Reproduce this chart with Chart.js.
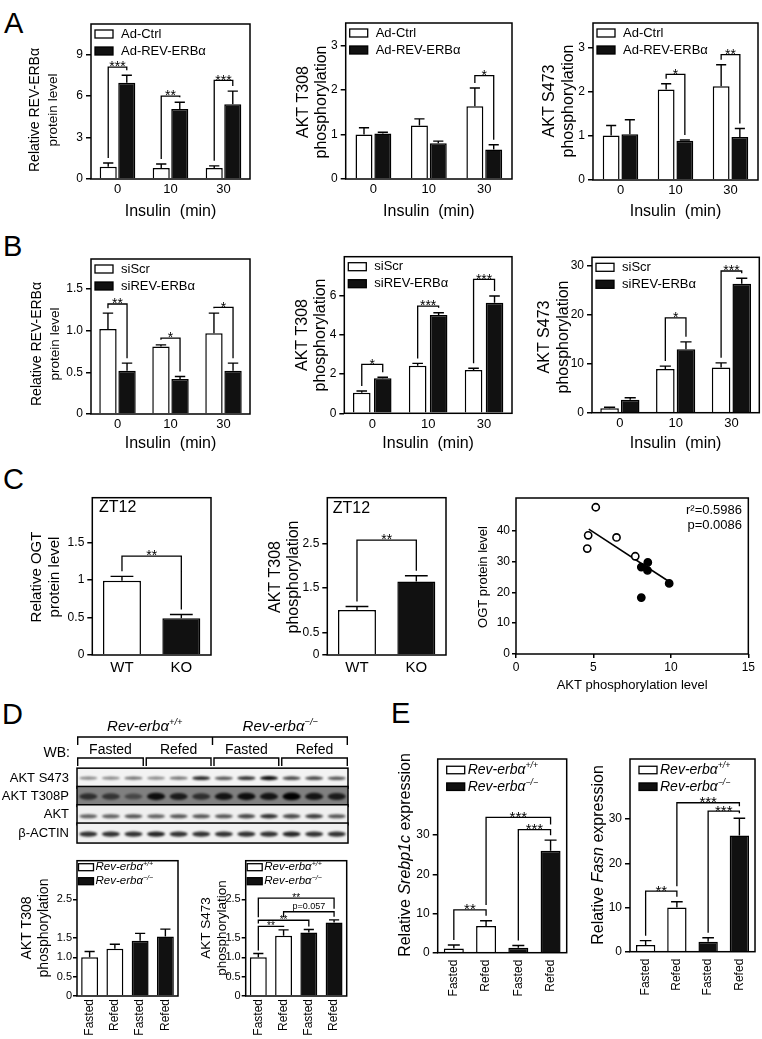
<!DOCTYPE html>
<html>
<head>
<meta charset="utf-8">
<script src="https://cdn.jsdelivr.net/npm/chart.js@4.4.1/dist/chart.umd.min.js"></script>
<style>
  html, body { margin: 0; padding: 0; background: #fff; }
  body { position: relative; width: 762px; height: 1039px; overflow: hidden; font-family: "Liberation Sans", Arial, sans-serif; }
  canvas { position: absolute; }
  .panel { position: absolute; font-size: 29px; line-height: 30px; color: #000; }
</style>
</head>
<body>
<div class="panel" style="left:4px;top:8px">A</div>
<div class="panel" style="left:3px;top:231px">B</div>
<div class="panel" style="left:3px;top:464px">C</div>
<div class="panel" style="left:2px;top:699px">D</div>
<div class="panel" style="left:391px;top:698px">E</div>
<script>
// ---------- A : Ad-Ctrl vs Ad-REV-ERBa ----------
const insulinMin = ['0', '10', '30'];
const aRevCtrl = [0.88, 0.80, 0.80];
const aRevCtrlErr = [0.28, 0.28, 0.15];
const aRevOver = [6.95, 5.05, 5.40];
const aRevOverErr = [0.55, 0.50, 0.95];
const aT308Ctrl = [1.00, 1.20, 1.63];
const aT308CtrlErr = [0.15, 0.15, 0.41];
const aT308Over = [1.02, 0.80, 0.66];
const aT308OverErr = [0.03, 0.05, 0.11];
const aS473Ctrl = [1.01, 2.06, 2.13];
const aS473CtrlErr = [0.23, 0.13, 0.49];
const aS473Over = [1.04, 0.89, 0.98];
const aS473OverErr = [0.33, 0.02, 0.19];

// ---------- B : siScr vs siREV-ERBa ----------
const bRevScr = [1.02, 0.81, 0.97];
const bRevScrErr = [0.19, 0.02, 0.24];
const bRevSi = [0.52, 0.42, 0.52];
const bRevSiErr = [0.09, 0.03, 0.09];
const bT308Scr = [1.05, 2.43, 2.21];
const bT308ScrErr = [0.09, 0.12, 0.09];
const bT308Si = [1.79, 5.02, 5.65];
const bT308SiErr = [0.05, 0.12, 0.34];
const bS473Scr = [0.89, 8.93, 9.27];
const bS473ScrErr = [0.21, 0.61, 0.93];
const bS473Si = [2.66, 13.0, 26.4];
const bS473SiErr = [0.41, 1.5, 1.1];

// ---------- C : ZT12 WT vs KO, correlation ----------
const genotypes = ['WT', 'KO'];
const cOgt = [0.99, 0.49];
const cOgtErr = [0.06, 0.05];
const cT308 = [1.01, 1.65];
const cT308Err = [0.08, 0.13];
const wtAkt = [5.15, 4.66, 4.60, 6.49, 7.70];
const wtOgt = [47.6, 38.5, 34.2, 37.8, 31.7];
const koAkt = [8.09, 8.51, 8.49, 8.09, 9.89];
const koOgt = [28.2, 29.7, 27.1, 18.3, 22.9];
const fitAkt = [4.7, 10.0];
const fitOgt = [40.5, 23.1];

// ---------- D : western blot + quantification ----------
const blotLanes = ['+/+ F1', '+/+ F2', '+/+ F3', '+/+ R1', '+/+ R2', '+/+ R3',
                   '-/- F1', '-/- F2', '-/- F3', '-/- R1', '-/- R2', '-/- R3'];
const blotRows = ['AKT S473', 'AKT T308P', 'AKT', 'β-ACTIN'];
const bandS473 = [0.45, 0.45, 0.55, 0.45, 0.55, 0.85, 0.65, 0.80, 0.95, 0.70, 0.70, 0.65];
const bandT308 = [0.65, 0.60, 0.45, 0.90, 0.80, 0.65, 0.85, 0.90, 0.85, 1.00, 0.85, 0.80];
const bandAkt = [0.60, 0.60, 0.65, 0.60, 0.65, 0.65, 0.65, 0.70, 0.80, 0.70, 0.75, 0.65];
const bandActin = [0.80, 0.80, 0.80, 0.85, 0.80, 0.80, 0.80, 0.80, 0.80, 0.85, 0.80, 0.80];
const feeding = ['Fasted', 'Refed', 'Fasted', 'Refed'];
const dT308 = [1.00, 1.22, 1.43, 1.54];
const dT308Err = [0.15, 0.12, 0.19, 0.19];
const dS473 = [1.00, 1.56, 1.64, 1.90];
const dS473Err = [0.10, 0.15, 0.08, 0.07];

// ---------- E : gene expression ----------
const eSrebp = [1.10, 6.80, 1.27, 26.0];
const eSrebpErr = [0.85, 1.35, 0.55, 2.7];
const eFasn = [1.50, 10.0, 2.26, 26.3];
const eFasnErr = [1.00, 1.30, 0.90, 3.9];

// tick values / labels
const ticksA1 = [0, 3, 6, 9];
const ticks0to3 = [0, 1, 2, 3];
const ticksB1 = [0, 0.5, 1, 1.5];
const ticksB1Text = ['0', '0.5', '1.0', '1.5'];
const ticksB2 = [0, 2, 4, 6];
const ticksTens = [0, 10, 20, 30];
const ticksC1 = [0, 0.5, 1, 1.5];
const ticksC1Text = ['0', '0.5', '1', '1.5'];
const ticksC2 = [0, 0.5, 1.5, 2.5];
const ticksScX = [0, 5, 10, 15];
const ticksScY = [0, 10, 20, 30, 40];
const ticksD = [0, 0.5, 1, 1.5, 2.5];
const ticksDText = ['0', '0.5', '1.0', '1.5', '2.5'];

// significance brackets: [bar slot, bar slot, level, label]
const brA1 = [[0, 1, 8.08, '***'], [2, 3, 5.99, '**'], [4, 5, 7.12, '***']];
const brA2 = [[4, 5, 2.32, '*']];
const brA3 = [[2, 3, 2.40, '*'], [4, 5, 2.85, '**']];
const brB1 = [[0, 1, 1.32, '**'], [2, 3, 0.91, '*'], [4, 5, 1.28, '*']];
const brB2 = [[0, 1, 2.50, '*'], [2, 3, 5.48, '***'], [4, 5, 6.84, '***']];
const brB3 = [[2, 3, 19.4, '*'], [4, 5, 29.0, '***']];
const brC1 = [[0, 1, 1.32, '**']];
const brC2 = [[0, 1, 2.58, '**']];
const brD2 = [[0, 3, 2.53, '**'], [1, 3, 2.18, 'p=0.057'], [0, 2, 1.96, '**'], [0, 1, 1.80, '**']];
const brE1 = [[0, 1, 10.9, '**'], [1, 3, 34.5, '***'], [2, 3, 31.4, '***']];
const brE2 = [[0, 1, 13.7, '**'], [1, 3, 33.7, '***'], [2, 3, 31.8, '***']];

const FONT = '"Liberation Sans", Arial, Helvetica, sans-serif';
Chart.defaults.font.family = FONT;
Chart.defaults.color = '#000';

const fontStr = (size, italic) => (italic ? 'italic ' : '') + size + 'px ' + FONT;
const segsOf = line => typeof line === 'string' ? [{ t: line }] : line;

function rich(ctx, line, x, y, size, align) {
  const segs = segsOf(line);
  const sz = s => s.sup ? size * 0.62 : size;
  let w = 0;
  segs.forEach(s => { ctx.font = fontStr(sz(s), s.i); w += ctx.measureText(s.t).width; });
  let cx = align === 'center' ? x - w / 2 : align === 'right' ? x - w : x;
  ctx.textAlign = 'left';
  ctx.textBaseline = 'middle';
  segs.forEach(s => {
    ctx.font = fontStr(sz(s), s.i);
    ctx.fillText(s.t, cx, s.sup ? y - size * 0.32 : y);
    cx += ctx.measureText(s.t).width;
  });
}

function makeCanvas(g) {
  const x0 = g.x0;
  const top = Math.round(g.t - (g.padT || 12));
  const w = Math.round(g.r + (g.padR || 8) - x0);
  const h = Math.round(g.bottom - top);
  const cv = document.createElement('canvas');
  cv.width = w; cv.height = h;
  cv.style.left = x0 + 'px';
  cv.style.top = top + 'px';
  document.body.appendChild(cv);
  return { cv, x0, top, yW: g.l - x0, padT: g.t - top, padR: x0 + w - g.r, xH: top + h - g.b };
}

// frame, error bars, brackets, legend, titles and notes
function figPlugin(c, p) {
  return {
    id: 'fig',
    afterDraw(chart) {
      const ctx = chart.ctx, a = chart.chartArea, ys = chart.scales.y;
      const dsets = chart.data.datasets;
      const n = c.series ? c.series.length : 0;
      ctx.save();
      ctx.strokeStyle = '#000';
      ctx.fillStyle = '#000';

      ctx.lineWidth = 1.4;
      for (let di = 0; di < n; di++) {
        const d = dsets[di];
        chart.getDatasetMeta(di).data.forEach((bar, i) => {
          const yt = ys.getPixelForValue(d.data[i] + d.errors[i]);
          const cw = bar.width * 0.3;
          ctx.beginPath();
          ctx.moveTo(bar.x, bar.y); ctx.lineTo(bar.x, yt);
          ctx.moveTo(bar.x - cw, yt); ctx.lineTo(bar.x + cw, yt);
          ctx.stroke();
        });
      }

      ctx.lineWidth = 1.5;
      ctx.strokeRect(a.left, a.top, a.right - a.left, a.bottom - a.top);

      const br = c.brackets || [];
      br.forEach(([s1, s2, level, text]) => {
        const yL = ys.getPixelForValue(level);
        const leg = s => {
          const di = s % n, i = Math.floor(s / n);
          const bar = chart.getDatasetMeta(di).data[i];
          let v = dsets[di].data[i] + dsets[di].errors[i];
          br.forEach(([u1, u2, l2]) => {
            if (l2 < level && Math.min(u1, u2) <= s && s <= Math.max(u1, u2)) v = Math.max(v, l2);
          });
          return [bar.x, Math.max(yL, ys.getPixelForValue(v) - (c.gap || 5))];
        };
        const [xa, ya] = leg(s1), [xb, yb] = leg(s2);
        ctx.lineWidth = 1.3;
        ctx.beginPath();
        ctx.moveTo(xa, ya); ctx.lineTo(xa, yL); ctx.lineTo(xb, yL); ctx.lineTo(xb, yb);
        ctx.stroke();
        const mx = (xa + xb) / 2;
        ctx.textAlign = 'center';
        if (/^\*+$/.test(text)) {
          ctx.font = fontStr(c.starSize || 14);
          ctx.textBaseline = 'alphabetic';
          ctx.fillText(text, mx, yL + (c.starSize || 14) * 0.3);
        } else {
          ctx.font = fontStr(c.noteSize || 9);
          ctx.textBaseline = 'bottom';
          ctx.fillText(text, mx, yL - 1);
        }
      });

      if (c.legend) {
        const L = c.legend;
        L.items.forEach((it, k) => {
          const cy = a.top + L.dy0 + k * L.dy;
          const bx = a.left + L.dx;
          ctx.fillStyle = it.fill;
          ctx.fillRect(bx, cy - L.bh / 2, L.bw, L.bh);
          ctx.lineWidth = 1.3;
          ctx.strokeRect(bx, cy - L.bh / 2, L.bw, L.bh);
          ctx.fillStyle = '#000';
          rich(ctx, it.segs, bx + L.bw + L.gap, cy, L.size, 'left');
        });
      }

      (c.notes || []).forEach(nt => {
        const x = nt.right ? a.right - nt.dx : a.left + nt.dx;
        rich(ctx, nt.t, x, a.top + nt.dy, nt.size, nt.right ? 'right' : 'left');
      });

      if (c.yTitle) {
        const T = c.yTitle;
        T.lines.forEach((line, k) => {
          ctx.save();
          ctx.translate(T.x[k] - p.x0, T.y - p.top);
          ctx.rotate(-Math.PI / 2);
          rich(ctx, line, 0, 0, T.sizes ? T.sizes[k] : T.size, 'center');
          ctx.restore();
        });
      }
      if (c.xTitle) {
        const T = c.xTitle;
        rich(ctx, T.text, (a.left + a.right) / 2 + (T.dx || 0), T.y - p.top, T.size, 'center');
      }
      ctx.restore();
    }
  };
}

function barChart(g, c) {
  const p = makeCanvas(g);
  const datasets = c.series.map(s => ({
    data: s.data, errors: s.err,
    backgroundColor: s.fill, borderColor: '#000', borderWidth: 1.5,
    barPercentage: c.barPct, categoryPercentage: c.catPct
  }));
  return new Chart(p.cv, {
    type: 'bar',
    data: { labels: c.labels, datasets },
    options: {
      responsive: false, animation: false, events: [],
      layout: { padding: { top: p.padT, right: p.padR, left: 0, bottom: 0 } },
      plugins: { legend: { display: false }, tooltip: { enabled: false } },
      scales: {
        x: {
          grid: { display: false, drawTicks: false }, border: { display: false },
          ticks: { color: '#000', font: { size: c.xTickSize || 13 }, padding: c.xPad ?? 3, autoSkip: false,
                   minRotation: c.rot || 0, maxRotation: c.rot || 0 },
          afterFit: s => { s.height = p.xH; }
        },
        y: {
          min: 0, max: c.yMax,
          grid: { drawOnChartArea: false, drawTicks: true, tickLength: c.tickLen || 5, color: '#000', lineWidth: 1.5 },
          border: { display: false },
          afterBuildTicks: s => { s.ticks = c.ticks.map(v => ({ value: v })); },
          ticks: { color: '#000', font: { size: c.yTickSize || 12 }, padding: c.yPad ?? 3,
                   callback: (v, i) => (c.tickText || c.ticks.map(String))[i] },
          afterFit: s => { s.width = p.yW; }
        }
      }
    },
    plugins: [figPlugin(c, p)]
  });
}

const WHITE = '#fff', BLACK = '#111';
const legendAB = names => ({
  dx: 4, dy0: 10, dy: 17, bw: 18, bh: 8, gap: 8, size: 13,
  items: [{ fill: WHITE, segs: names[0] }, { fill: BLACK, segs: names[1] }]
});
const revWT = [{ t: 'Rev-erbα', i: true }, { t: '+/+', i: true, sup: true }];
const revKO = [{ t: 'Rev-erbα', i: true }, { t: '−/−', i: true, sup: true }];

// ---- A ----
barChart({ l: 91, t: 24, r: 250, b: 179, x0: 26, bottom: 222 }, {
  labels: insulinMin, yMax: 11.2, ticks: ticksA1, catPct: 0.70, barPct: 0.92,
  series: [{ data: aRevCtrl, err: aRevCtrlErr, fill: WHITE }, { data: aRevOver, err: aRevOverErr, fill: BLACK }],
  brackets: brA1, legend: legendAB(['Ad-Ctrl', 'Ad-REV-ERBα']),
  yTitle: { lines: ['Relative REV-ERBα', 'protein level'], x: [35, 53], y: 110, sizes: [14, 13.5] },
  xTitle: { text: 'Insulin  (min)', y: 211.7, size: 16 }
});
barChart({ l: 345.7, t: 23, r: 512, b: 179, x0: 292, bottom: 222 }, {
  labels: insulinMin, yMax: 3.5, ticks: ticks0to3, catPct: 0.68, barPct: 0.9,
  series: [{ data: aT308Ctrl, err: aT308CtrlErr, fill: WHITE }, { data: aT308Over, err: aT308OverErr, fill: BLACK }],
  brackets: brA2, legend: legendAB(['Ad-Ctrl', 'Ad-REV-ERBα']),
  yTitle: { lines: ['AKT T308', 'phosphorylation'], x: [303.3, 321.7], y: 102, size: 16 },
  xTitle: { text: 'Insulin  (min)', y: 211.7, size: 16 }
});
barChart({ l: 593, t: 23, r: 758, b: 180, x0: 539, bottom: 222, padR: 3 }, {
  labels: insulinMin, yMax: 3.57, ticks: ticks0to3, catPct: 0.68, barPct: 0.9,
  series: [{ data: aS473Ctrl, err: aS473CtrlErr, fill: WHITE }, { data: aS473Over, err: aS473OverErr, fill: BLACK }],
  brackets: brA3, legend: legendAB(['Ad-Ctrl', 'Ad-REV-ERBα']),
  yTitle: { lines: ['AKT S473', 'phosphorylation'], x: [550, 568.5], y: 101, size: 16 },
  xTitle: { text: 'Insulin  (min)', y: 211.7, size: 16 }
});

// ---- B ----
barChart({ l: 91, t: 259, r: 250, b: 414, x0: 27, bottom: 453 }, {
  labels: insulinMin, yMax: 1.86, ticks: ticksB1, tickText: ticksB1Text, catPct: 0.72, barPct: 0.91,
  series: [{ data: bRevScr, err: bRevScrErr, fill: WHITE }, { data: bRevSi, err: bRevSiErr, fill: BLACK }],
  brackets: brB1, legend: legendAB(['siScr', 'siREV-ERBα']),
  yTitle: { lines: ['Relative REV-ERBα', 'protein level'], x: [36.7, 55], y: 344, sizes: [14, 13.5] },
  xTitle: { text: 'Insulin  (min)', y: 443.3, size: 16 }
});
barChart({ l: 344.3, t: 256.7, r: 512, b: 413.3, x0: 292, bottom: 453 }, {
  labels: insulinMin, yMax: 8.0, ticks: ticksB2, catPct: 0.75, barPct: 0.84,
  series: [{ data: bT308Scr, err: bT308ScrErr, fill: WHITE }, { data: bT308Si, err: bT308SiErr, fill: BLACK }],
  brackets: brB2, legend: legendAB(['siScr', 'siREV-ERBα']),
  yTitle: { lines: ['AKT T308', 'phosphorylation'], x: [302.7, 320.7], y: 335, size: 16 },
  xTitle: { text: 'Insulin  (min)', y: 443.3, size: 16 }
});
barChart({ l: 592, t: 257.3, r: 759.3, b: 412.7, x0: 535, bottom: 453, padR: 2 }, {
  labels: insulinMin, yMax: 31.8, ticks: ticksTens, catPct: 0.74, barPct: 0.9,
  series: [{ data: bS473Scr, err: bS473ScrErr, fill: WHITE }, { data: bS473Si, err: bS473SiErr, fill: BLACK }],
  brackets: brB3, legend: legendAB(['siScr', 'siREV-ERBα']),
  yTitle: { lines: ['AKT S473', 'phosphorylation'], x: [545, 563.3], y: 337, size: 16 },
  xTitle: { text: 'Insulin  (min)', y: 443.3, size: 16 }
});

// ---- C ----
barChart({ l: 92.3, t: 497.7, r: 211, b: 655, x0: 28, bottom: 690 }, {
  labels: genotypes, yMax: 2.1, ticks: ticksC1, tickText: ticksC1Text, catPct: 1, barPct: 0.64,
  xTickSize: 15, xPad: 4,
  series: [{ data: cOgt, err: cOgtErr, fill: [WHITE, BLACK] }],
  brackets: brC1,
  notes: [{ t: 'ZT12', dx: 6.7, dy: 10.3, size: 16 }],
  yTitle: { lines: ['Relative OGT', 'protein level'], x: [37, 54.5], y: 577, size: 15 }
});
barChart({ l: 327.3, t: 497.7, r: 446, b: 655, x0: 264, bottom: 690 }, {
  labels: genotypes, yMax: 3.53, ticks: ticksC2, catPct: 1, barPct: 0.64,
  xTickSize: 15, xPad: 4,
  series: [{ data: cT308, err: cT308Err, fill: [WHITE, BLACK] }],
  brackets: brC2,
  notes: [{ t: 'ZT12', dx: 5.4, dy: 10.6, size: 16 }],
  yTitle: { lines: ['AKT T308', 'phosphorylation'], x: [275.8, 293.3], y: 577, size: 16 }
});

(function scatter() {
  const g = { l: 516, t: 498, r: 753, b: 654, x0: 474, bottom: 694, padR: 4 };
  const c = {
    notes: [{ t: 'r²=0.5986', right: true, dx: 6.3, dy: 12.7, size: 13 },
            { t: 'p=0.0086', right: true, dx: 6.3, dy: 27.7, size: 13 }],
    yTitle: { lines: ['OGT protein level'], x: [483], y: 577, size: 13 },
    xTitle: { text: 'AKT phosphorylation level', y: 685, size: 13 }
  };
  const p = makeCanvas(g);
  const pts = (xs, ys) => xs.map((x, i) => ({ x, y: ys[i] }));
  const lin = (min, max, ticks) => ({
    type: 'linear', min, max,
    grid: { drawOnChartArea: false, drawTicks: true, tickLength: 4, color: '#000', lineWidth: 1.5 },
    border: { display: false },
    afterBuildTicks: s => { s.ticks = ticks.map(v => ({ value: v })); },
    ticks: { color: '#000', font: { size: 12 }, padding: 2 }
  });
  new Chart(p.cv, {
    type: 'scatter',
    data: { datasets: [
      { type: 'line', data: pts(fitAkt, fitOgt), borderColor: '#000', borderWidth: 1.6, pointRadius: 0, order: 2 },
      { data: pts(wtAkt, wtOgt), pointRadius: 3.6, backgroundColor: '#fff', borderColor: '#000', borderWidth: 1.6, order: 1 },
      { data: pts(koAkt, koOgt), pointRadius: 3.6, backgroundColor: '#000', borderColor: '#000', borderWidth: 1.6, order: 0 }
    ] },
    options: {
      responsive: false, animation: false, events: [],
      layout: { padding: { top: p.padT, right: p.padR, left: 0, bottom: 0 } },
      plugins: { legend: { display: false }, tooltip: { enabled: false } },
      scales: {
        x: Object.assign(lin(0, 15, ticksScX), { afterFit: s => { s.height = p.xH; } }),
        y: Object.assign(lin(0, 50.6, ticksScY), { afterFit: s => { s.width = p.yW; } })
      }
    },
    plugins: [figPlugin(c, p)]
  });
})();

// ---- D : blot ----
(function blot() {
  const g = { l: 77, t: 769, r: 348, b: 855, x0: 0, bottom: 858, padT: 54, padR: 4 };
  const p = makeCanvas(g);
  const bands = [bandS473, bandT308, bandAkt, bandActin];
  const look = [
    { bg: '#f3f3f3', h: 1.6, dy: 0 },
    { bg: '#808080', h: 3.0, dy: 0 },
    { bg: '#efefef', h: 1.9, dy: 1.5 },
    { bg: '#f1f1f1', h: 2.2, dy: 1 }
  ];
  const blotPlugin = {
    id: 'blot',
    afterDraw(chart) {
      const ctx = chart.ctx, a = chart.chartArea, xs = chart.scales.x, ys = chart.scales.y;
      const lane = (xs.getPixelForValue(1) - xs.getPixelForValue(0));
      ctx.save();
      bands.forEach((vals, r) => {
        const yc = ys.getPixelForValue(r);
        const top = yc - 10, L = look[r];
        ctx.fillStyle = L.bg;
        ctx.fillRect(a.left, top, a.right - a.left, 20);
        ctx.filter = 'blur(1px)';
        vals.forEach((v, i) => {
          const xc = xs.getPixelForValue(i);
          ctx.fillStyle = 'rgba(0,0,0,' + v + ')';
          ctx.beginPath();
          ctx.ellipse(xc, yc + L.dy, lane * 0.4, L.h * (0.7 + 0.6 * v), 0, 0, Math.PI * 2);
          ctx.fill();
        });
        ctx.filter = 'none';
        ctx.strokeStyle = '#000';
        ctx.lineWidth = 1.5;
        ctx.strokeRect(a.left, top, a.right - a.left, 20);
      });
      // header brackets
      ctx.fillStyle = '#000';
      ctx.strokeStyle = '#000';
      ctx.lineWidth = 1.4;
      const edge = i => xs.getPixelForValue(i) - lane / 2;
      const y1 = a.top - 32, y2 = a.top - 11;
      ctx.beginPath();
      ctx.moveTo(a.left + 0.7, y1 + 8); ctx.lineTo(a.left + 0.7, y1); ctx.lineTo(a.right - 0.7, y1); ctx.lineTo(a.right - 0.7, y1 + 8);
      ctx.moveTo(edge(6), y1); ctx.lineTo(edge(6), y1 + 8);
      ctx.stroke();
      [revWT, revKO].forEach((lbl, k) => {
        const cx = (xs.getPixelForValue(k * 6) + xs.getPixelForValue(k * 6 + 5)) / 2;
        rich(ctx, lbl, cx, a.top - 42, 15, 'center');
      });
      feeding.forEach((f, k) => {
        const x1 = edge(k * 3) + (k === 0 ? 0.7 : 1.5), x2 = edge(k * 3 + 3) - (k === 3 ? 0.7 : 1.5);
        ctx.beginPath();
        ctx.moveTo(x1, y2 + 8); ctx.lineTo(x1, y2); ctx.lineTo(x2, y2); ctx.lineTo(x2, y2 + 8);
        ctx.stroke();
        rich(ctx, f, (x1 + x2) / 2, a.top - 19, 14, 'center');
      });
      rich(ctx, 'WB:', a.left - 7, a.top - 16, 14, 'right');
      ctx.restore();
    }
  };
  new Chart(p.cv, {
    type: 'bar',
    data: { labels: blotLanes, datasets: [] },
    options: {
      responsive: false, animation: false, events: [],
      layout: { padding: { top: p.padT, right: p.padR, left: 0, bottom: 3 } },
      plugins: { legend: { display: false }, tooltip: { enabled: false } },
      scales: {
        x: { type: 'category', labels: blotLanes, display: false, offset: true },
        y: { type: 'category', labels: blotRows, offset: true,
             grid: { display: false, drawTicks: false }, border: { display: false },
             ticks: { color: '#000', font: { size: 13 }, padding: 8 },
             afterFit: s => { s.width = p.yW; } }
      }
    },
    plugins: [blotPlugin]
  });
})();

const legendD = { dx: 1.5, dy0: 6.5, dy: 14, bw: 15, bh: 7, gap: 2, size: 11.5,
  items: [{ fill: WHITE, segs: revWT }, { fill: BLACK, segs: revKO }] };
barChart({ l: 77, t: 860.7, r: 178, b: 996, x0: 14, bottom: 1039 }, {
  labels: feeding, yMax: 3.5, ticks: ticksD, tickText: ticksDText, catPct: 1, barPct: 0.67,
  xTickSize: 12, xPad: 3, rot: 90, yTickSize: 11, yPad: 1, tickLen: 4,
  series: [{ data: dT308, err: dT308Err, fill: [WHITE, WHITE, BLACK, BLACK] }],
  legend: legendD,
  yTitle: { lines: ['AKT T308', 'phosphorylation'], x: [27, 44], y: 928, size: 14 }
});
barChart({ l: 245.7, t: 860.7, r: 346.7, b: 996, x0: 196, bottom: 1039 }, {
  labels: feeding, yMax: 3.5, ticks: ticksD, tickText: ticksDText, catPct: 1, barPct: 0.67,
  xTickSize: 12, xPad: 3, rot: 90, starSize: 10, gap: 3, yTickSize: 11, yPad: 1, tickLen: 4,
  series: [{ data: dS473, err: dS473Err, fill: [WHITE, WHITE, BLACK, BLACK] }],
  brackets: brD2, legend: legendD,
  yTitle: { lines: ['AKT S473', 'phosphorylation'], x: [206, 222], y: 928, size: 13.5 }
});

// ---- E ----
const legendE = { dx: 9, dy0: 11, dy: 16.7, bw: 18, bh: 7.5, gap: 3, size: 14,
  items: [{ fill: WHITE, segs: revWT }, { fill: BLACK, segs: revKO }] };
barChart({ l: 437.7, t: 759, r: 566.7, b: 952.7, x0: 396, bottom: 1010 }, {
  labels: feeding, yMax: 49.4, ticks: ticksTens, catPct: 1, barPct: 0.62,
  xTickSize: 12, xPad: 7, rot: 90, starSize: 15,
  series: [{ data: eSrebp, err: eSrebpErr, fill: [WHITE, WHITE, BLACK, BLACK] }],
  brackets: brE1, legend: legendE,
  yTitle: { lines: [[{ t: 'Relative ' }, { t: 'Srebp1c', i: true }, { t: ' expression' }]], x: [406], y: 855, size: 16 }
});
barChart({ l: 630, t: 759, r: 759.3, b: 951.7, x0: 588, bottom: 1010, padR: 2 }, {
  labels: feeding, yMax: 43.6, ticks: ticksTens, catPct: 1, barPct: 0.62,
  xTickSize: 12, xPad: 7, rot: 90, starSize: 15,
  series: [{ data: eFasn, err: eFasnErr, fill: [WHITE, WHITE, BLACK, BLACK] }],
  brackets: brE2, legend: legendE,
  yTitle: { lines: [[{ t: 'Relative ' }, { t: 'Fasn', i: true }, { t: ' expression' }]], x: [598.3], y: 855, size: 16 }
});
</script>
</body>
</html>
